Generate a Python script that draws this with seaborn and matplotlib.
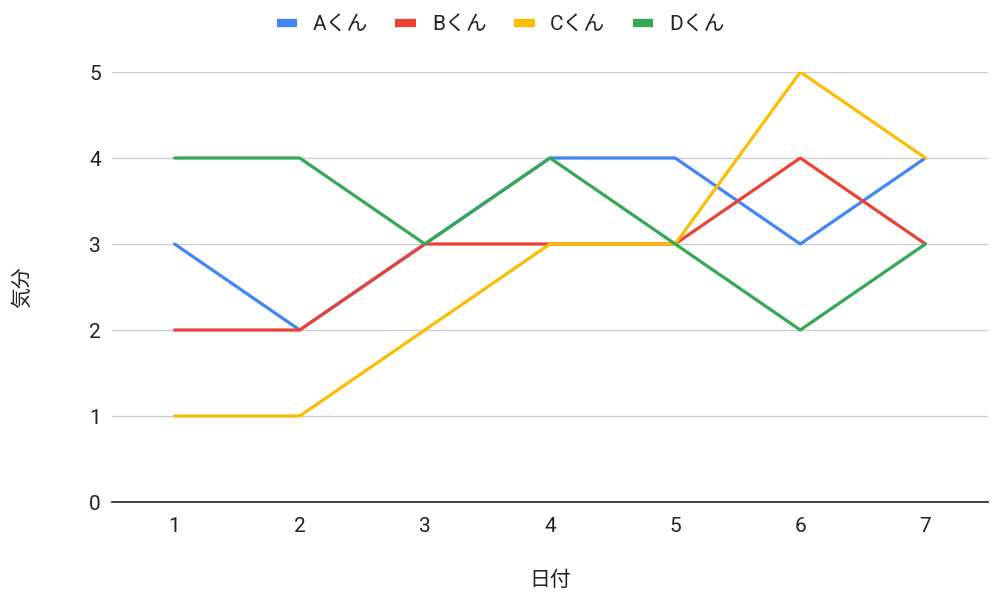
import matplotlib
matplotlib.use("Agg")
import matplotlib.pyplot as plt
import seaborn as sns
import pandas as pd

days = [1, 2, 3, 4, 5, 6, 7]
a_kun = [3, 2, 3, 4, 4, 3, 4]
b_kun = [2, 2, 3, 3, 3, 4, 3]
c_kun = [1, 1, 2, 3, 3, 5, 4]
d_kun = [4, 4, 3, 4, 3, 2, 3]
series_names = ["Aくん", "Bくん", "Cくん", "Dくん"]
colors = ["#4285F4", "#EA4335", "#FBBC04", "#34A853"]

df = pd.DataFrame({"日付": days * 4,
                   "気分": a_kun + b_kun + c_kun + d_kun,
                   "name": sum([[n] * len(days) for n in series_names], [])})

sns.set_style("white")
plt.rcParams['font.family'] = ['Roboto', 'Noto Sans CJK JP', 'DejaVu Sans']

fig = plt.figure(figsize=(10.01, 5.98), dpi=100)
ax = fig.add_axes([112/1001, 1-502/598, (988-112)/1001, (502-72)/598])

sns.lineplot(data=df, x="日付", y="気分", hue="name", palette=colors,
             hue_order=series_names, linewidth=2.3, ax=ax, legend=False)

ax.set_xlim(0.5, 7.5)
ax.set_ylim(0, 5)
ax.set_xticks(days)
ax.set_yticks([0, 1, 2, 3, 4, 5])
ax.tick_params(axis='both', length=0, labelsize=15, colors='#222222')
ax.tick_params(axis='x', pad=11)
ax.tick_params(axis='y', pad=8)
ax.grid(axis='y', color='#cccccc', linewidth=1)
ax.grid(axis='x', visible=False)
for s in ['top', 'right', 'left']:
    ax.spines[s].set_visible(False)
ax.spines['bottom'].set_color('#333333')
ax.spines['bottom'].set_linewidth(1.3)
ax.set_axisbelow(True)

ax.set_xlabel("日付", fontsize=15, family=['Noto Sans CJK JP'], color='#222222')
ax.set_ylabel("気分", fontsize=15, family=['Noto Sans CJK JP'], color='#222222')
ax.xaxis.set_label_coords(0.5, (502 - 580) / 430)
ax.yaxis.set_label_coords((22 - 112) / 876, 0.5)
ax.xaxis.label.set_va('center')
ax.yaxis.label.set_va('center')

handles = [plt.Line2D([0], [0], color=c, linewidth=6, solid_capstyle='butt') for c in colors]
leg = fig.legend(handles, series_names, loc='center', bbox_to_anchor=(0.5, 1-25/598),
                 ncol=4, frameon=False, handlelength=1.0, handletextpad=0.75,
                 columnspacing=1.3,
                 prop={'family': ['Roboto', 'Noto Sans CJK JP'], 'size': 15})
for t in leg.get_texts():
    t.set_color('#222222')

fig.savefig("out.png", dpi=100, facecolor='white')
